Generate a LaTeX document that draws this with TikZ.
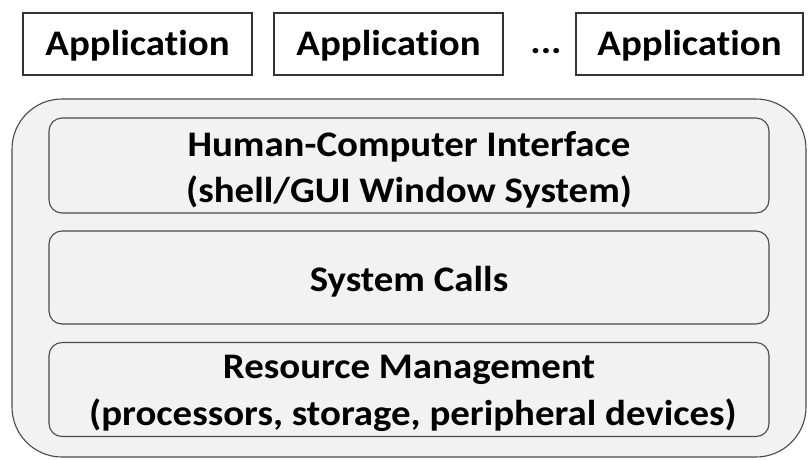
\documentclass[tikz,border=0pt]{standalone}
\usepackage{fontspec}
\setmainfont{Carlito}[FakeStretch=1.08,Ligatures=NoCommon]
\definecolor{boxfill}{HTML}{F2F2F2}
\definecolor{edge}{HTML}{4A4A4A}
\tikzset{
  appbox/.style={draw=black!80, line width=1.4pt, fill=white, minimum height=62pt, inner sep=0pt},
  layer/.style={draw=edge, line width=1.1pt, fill=boxfill, rounded corners=13pt, minimum width=720pt, inner sep=0pt},
  outerbox/.style={draw=edge, line width=1.1pt, fill=boxfill, rounded corners=50pt, inner sep=0pt},
  txt/.style={anchor=base, inner sep=0pt, font=\fontsize{36}{44}\selectfont\bfseries}
}
\begin{document}
\begin{tikzpicture}[x=1pt,y=-1pt]
\useasboundingbox (0,0) rectangle (808,459);
\node[appbox, minimum width=229pt] (app1) at (137.5,44) {};
\node[appbox, minimum width=229pt] (app2) at (388.5,44) {};
\node[appbox, minimum width=227pt] (app3) at (689.5,44) {};
\node[txt] (app1t) at (137.5,55) {Application};
\node[txt] (app2t) at (388.5,55) {Application};
\node[txt] (app3t) at (689.5,55) {Application};
\node[txt] (dots) at (546,53) {...};
\node[outerbox, minimum width=794pt, minimum height=358pt] (os) at (409,278) {};
\node[layer, minimum height=95pt] (hci) at (409,165.5) {};
\node[layer, minimum height=93pt] (sys) at (409,277.5) {};
\node[layer, minimum height=94pt] (res) at (409,389.5) {};
\node[txt] (hcia) at (409,156) {Human-Computer Interface};
\node[txt] (hcib) at (409,202) {(shell/GUI Window System)};
\node[txt] (syst) at (409,291) {System Calls};
\node[txt] (resa) at (409,378) {Resource Management};
\node[txt] (resb) at (413,425) {(processors, storage, peripheral devices)};
\end{tikzpicture}
\end{document}
